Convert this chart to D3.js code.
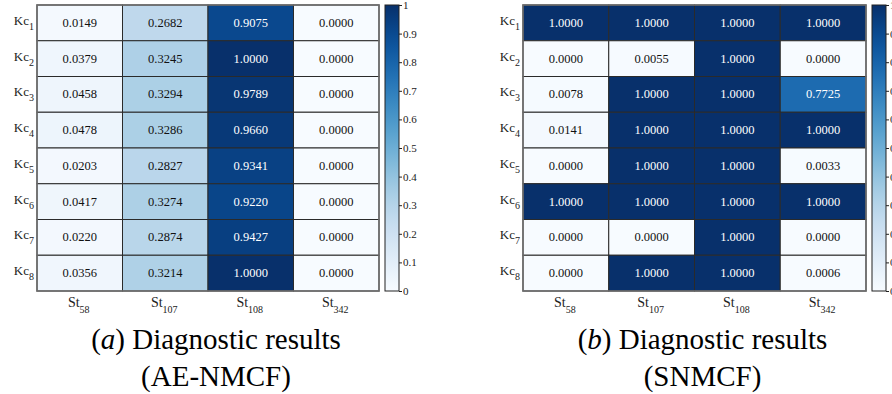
<!DOCTYPE html>
<html>
<head>
<meta charset="utf-8">
<script src="https://cdn.jsdelivr.net/npm/d3@7"></script>
<style>
  body { margin: 0; background: #fff; }
</style>
</head>
<body>
<div id="chart"></div>
<script>
// row / column labels (subscripts)
var kcIds = ["1", "2", "3", "4", "5", "6", "7", "8"];
var stIds = ["58", "107", "108", "342"];

// AE-NMCF diagnostic results, one row per Kc
var aeValues = [
  [0.0149, 0.2682, 0.9075, 0.0000],
  [0.0379, 0.3245, 1.0000, 0.0000],
  [0.0458, 0.3294, 0.9789, 0.0000],
  [0.0478, 0.3286, 0.9660, 0.0000],
  [0.0203, 0.2827, 0.9341, 0.0000],
  [0.0417, 0.3274, 0.9220, 0.0000],
  [0.0220, 0.2874, 0.9427, 0.0000],
  [0.0356, 0.3214, 1.0000, 0.0000]
];

// SNMCF diagnostic results
var snValues = [
  [1.0000, 1.0000, 1.0000, 1.0000],
  [0.0000, 0.0055, 1.0000, 0.0000],
  [0.0078, 1.0000, 1.0000, 0.7725],
  [0.0141, 1.0000, 1.0000, 1.0000],
  [0.0000, 1.0000, 1.0000, 0.0033],
  [1.0000, 1.0000, 1.0000, 1.0000],
  [0.0000, 0.0000, 1.0000, 0.0000],
  [0.0000, 1.0000, 1.0000, 0.0006]
];

var cbTicks = [0, 0.1, 0.2, 0.3, 0.4, 0.5, 0.6, 0.7, 0.8, 0.9, 1];

var FONT = "Liberation Serif";
var W = 892, H = 394;
var svg = d3.select("#chart").append("svg")
  .attr("width", W).attr("height", H)
  .attr("font-family", FONT);

var color = d3.scaleSequential(d3.interpolateBlues).domain([0, 1]);

function heatmap(values, left, right, top, bottom, caption1, caption2, letter) {
  var g = svg.append("g");
  var x = d3.scaleBand().domain(stIds).range([left, right]);
  var y = d3.scaleBand().domain(kcIds).range([top, bottom]);

  var cells = [];
  values.forEach(function (row, i) {
    row.forEach(function (v, j) {
      cells.push({ kc: kcIds[i], st: stIds[j], v: v });
    });
  });

  g.selectAll("rect.cell")
    .data(cells)
    .enter()
    .append("rect")
    .attr("class", "cell")
    .attr("x", function (d) { return x(d.st); })
    .attr("y", function (d) { return y(d.kc); })
    .attr("width", x.bandwidth())
    .attr("height", y.bandwidth())
    .attr("fill", function (d) { return color(d.v); })
    .attr("stroke", "#2a2a2a")
    .attr("stroke-width", 1);

  g.selectAll("text.val")
    .data(cells)
    .enter()
    .append("text")
    .attr("class", "val")
    .attr("x", function (d) { return x(d.st) + x.bandwidth() / 2; })
    .attr("y", function (d) { return y(d.kc) + y.bandwidth() / 2 + 4; })
    .attr("text-anchor", "middle")
    .attr("font-size", 12.5)
    .attr("fill", function (d) { return d.v > 0.5 ? "#fff" : "#111"; })
    .text(function (d) { return d.v.toFixed(4); });

  // outer frame
  g.append("rect")
    .attr("x", left).attr("y", top)
    .attr("width", right - left).attr("height", bottom - top)
    .attr("fill", "none")
    .attr("stroke", "#6e6e6e")
    .attr("stroke-width", 1.6);

  // Kc labels
  var yl = g.selectAll("text.kc")
    .data(kcIds)
    .enter()
    .append("text")
    .attr("class", "kc")
    .attr("x", left - 3)
    .attr("y", function (d) { return y(d) + y.bandwidth() / 2 + 2; })
    .attr("text-anchor", "end")
    .attr("font-size", 13)
    .attr("fill", "#222");
  yl.append("tspan").text("Kc");
  yl.append("tspan").attr("font-size", 10).attr("dy", 5)
    .text(function (d) { return d; });

  // St labels
  var xl = g.selectAll("text.st")
    .data(stIds)
    .enter()
    .append("text")
    .attr("class", "st")
    .attr("x", function (d) { return x(d) + x.bandwidth() / 2 - 1; })
    .attr("y", bottom + 16)
    .attr("text-anchor", "middle")
    .attr("font-size", 14)
    .attr("fill", "#222");
  xl.append("tspan").text("St");
  xl.append("tspan").attr("font-size", 10).attr("dy", 6)
    .text(function (d) { return d; });

  // colour bar
  var cbX = right + 6, cbW = 14;
  var cy = d3.scaleLinear().domain([0, 1]).range([bottom, top]);
  var gradId = "grad" + letter;
  var grad = svg.append("defs").append("linearGradient")
    .attr("id", gradId)
    .attr("x1", 0).attr("y1", 1).attr("x2", 0).attr("y2", 0);
  d3.range(0, 1.0001, 0.05).forEach(function (t) {
    grad.append("stop").attr("offset", t).attr("stop-color", color(t));
  });
  g.append("rect")
    .attr("x", cbX).attr("y", top)
    .attr("width", cbW).attr("height", bottom - top)
    .attr("fill", "url(#" + gradId + ")")
    .attr("stroke", "#222").attr("stroke-width", 1);

  var axis = d3.axisRight(cy).tickValues(cbTicks)
    .tickSize(3).tickPadding(1)
    .tickFormat(function (d) { return d === 0 || d === 1 ? d3.format("d")(d) : d3.format(".1f")(d); });
  var ag = g.append("g")
    .attr("transform", "translate(" + (cbX + cbW) + ",0)")
    .call(axis)
    .attr("font-family", FONT)
    .attr("font-size", 11);
  ag.select(".domain").remove();
  ag.selectAll("line").attr("stroke", "#222");
  ag.selectAll("text").attr("fill", "#222");

  // caption
  var cx = (left + right) / 2 + 8;
  var c1 = g.append("text")
    .attr("x", cx).attr("y", 349)
    .attr("text-anchor", "middle")
    .attr("font-size", 29)
    .attr("fill", "#000");
  c1.append("tspan").text("(");
  c1.append("tspan").attr("font-style", "italic").text(letter);
  c1.append("tspan").text(") " + caption1);
  g.append("text")
    .attr("x", cx).attr("y", 386)
    .attr("text-anchor", "middle")
    .attr("font-size", 29)
    .attr("fill", "#000")
    .text(caption2);
}

heatmap(aeValues, 37, 379, 5, 291, "Diagnostic results", "(AE-NMCF)", "a");
heatmap(snValues, 523, 866, 5, 291, "Diagnostic results", "(SNMCF)", "b");
</script>
</body>
</html>
